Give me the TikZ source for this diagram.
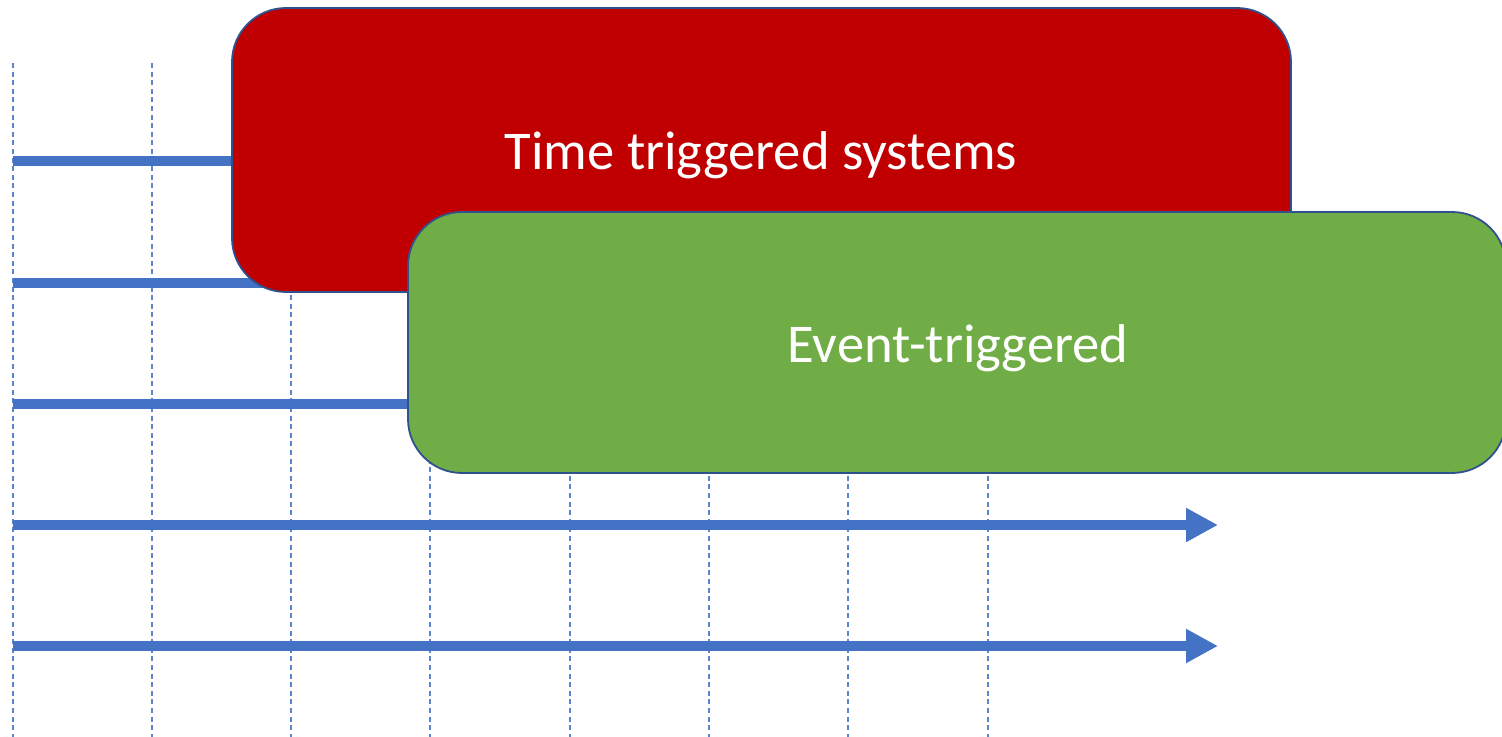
\documentclass[tikz,border=0pt]{standalone}
\usepackage{fontspec}
\setmainfont{Carlito}
\usetikzlibrary{arrows.meta}
\definecolor{axisblue}{HTML}{4472C4}
\definecolor{gridblue}{HTML}{5B85D0}
\definecolor{boxedge}{HTML}{2F528F}
\definecolor{ttred}{HTML}{C00000}
\definecolor{etgreen}{HTML}{70AD47}
\tikzset{
  gridline/.style={gridblue, line width=0.65pt, dash pattern=on 2.5pt off 1.8pt},
  timeline/.style={axisblue, line width=5pt,
    -{Triangle[length=16pt, width=16pt]}},
  groupbox/.style={draw=boxedge, line width=0.9pt, rounded corners=27pt},
  grouplabel/.style={text=white, font=\fontsize{27.3pt}{31pt}\selectfont},
}
\begin{document}
\begin{tikzpicture}[x=0.5pt, y=-0.5pt]
  \useasboundingbox (0,0) rectangle (1502,737);
  % time grid
  \foreach \gx [count=\i] in {13,152,291,430,570,709,848,988} {
    \coordinate (gt\i) at (\gx,63);
    \coordinate (gb\i) at (\gx,737);
    \draw[gridline] (gt\i) -- (gb\i);
  }
  % time axes
  \foreach \ty [count=\i] in {161,283,404,525,646} {
    \coordinate (ts\i) at (13,\ty);
    \coordinate (te\i) at (1218,\ty);
    \draw[timeline] (ts\i) -- (te\i);
  }
  % groups
  \path[groupbox, fill=ttred] (232,8) rectangle (1291,292);
  \node[grouplabel] (tt) at (761,155) {Time triggered systems};
  \path[groupbox, fill=etgreen] (408,212) rectangle (1506,473);
  \node[grouplabel] (et) at (958,348) {Event-triggered};
\end{tikzpicture}
\end{document}
